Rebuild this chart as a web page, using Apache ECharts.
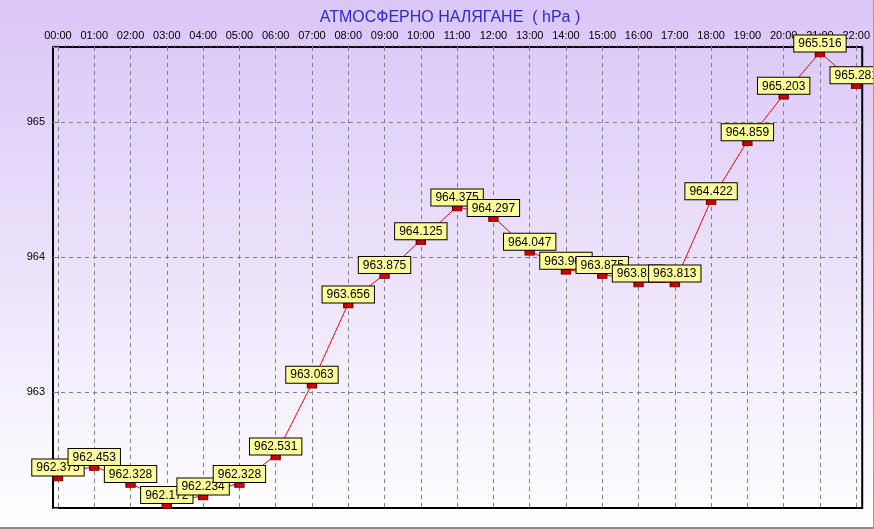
<!DOCTYPE html>
<html>
<head>
<meta charset="utf-8">
<script src="https://cdn.jsdelivr.net/npm/echarts@6/dist/echarts.min.js"></script>
<style>
  html, body { margin: 0; padding: 0; }
  #chart {
    width: 873px; height: 527px;
    border-right: 1px solid #a0a0a0;
    border-bottom: 2px solid #8c8c8c;
    background: linear-gradient(to bottom, #dac6f8 0%, #ece2fb 50%, #ffffff 100%);
  }
</style>
</head>
<body>
<div id="chart"></div>
<script>
// часове по горната ос
const hours = ['00:00', '01:00', '02:00', '03:00', '04:00', '05:00', '06:00', '07:00',
  '08:00', '09:00', '10:00', '11:00', '12:00', '13:00', '14:00', '15:00', '16:00',
  '17:00', '18:00', '19:00', '20:00', '21:00', '22:00'];

// атмосферно налягане, hPa
const pressure = [962.375, 962.453, 962.328, 962.172, 962.234, 962.328, 962.531, 963.063,
  963.656, 963.875, 964.125, 964.375, 964.297, 964.047, 963.906, 963.875, 963.813,
  963.813, 964.422, 964.859, 965.203, 965.516, 965.281];

const yLabels = [963, 964, 965];

const chart = echarts.init(document.getElementById('chart'), null, { renderer: 'canvas' });

const gridLine = {
  show: true, showMinLine: false, showMaxLine: false,
  lineStyle: { color: '#808080', type: [4, 4], width: 1 }
};

const option = {
  animation: false,
  textStyle: { fontFamily: 'Liberation Sans, Arial, sans-serif' },
  title: {
    text: 'АТМОСФЕРНО НАЛЯГАНЕ  ( hPa )',
    left: 445, top: 5,
    textAlign: 'center',
    textStyle: { color: '#2b2bd0', fontSize: 16, fontWeight: 'normal' }
  },
  grid: {
    left: 53, top: 47, right: 8, bottom: 19,
    show: true, borderColor: '#000', borderWidth: 2,
    backgroundColor: 'transparent'
  },
  xAxis: {
    type: 'value',
    position: 'top',
    min: -0.137, max: 22.165,
    splitNumber: 22,
    axisLine: { show: false },
    axisTick: { show: true, inside: false, length: 4, lineStyle: { color: '#808080', type: [2, 2] } },
    minorTick: { show: true, splitNumber: 5, length: 2, lineStyle: { color: '#808080' } },
    splitLine: gridLine,
    axisLabel: {
      color: '#000', fontSize: 11, margin: 6,
      formatter: v => (Number.isInteger(v) && hours[v]) ? hours[v] : ''
    }
  },
  yAxis: {
    type: 'value',
    min: 962.141, max: 965.556,
    splitNumber: 3,
    axisLine: { show: false },
    axisTick: { show: true, length: 5, lineStyle: { color: '#808080' } },
    splitLine: gridLine,
    axisLabel: {
      color: '#000', fontSize: 11, margin: 8,
      formatter: v => yLabels.includes(Math.round(v * 1000) / 1000) ? String(v) : ''
    }
  },
  series: [{
    type: 'line',
    data: pressure.map((p, i) => [i, p]),
    lineStyle: { color: '#ff0000', width: 1 },
    symbol: 'rect',
    symbolSize: [9, 5],
    symbolOffset: [0, 2],
    itemStyle: { color: '#cc0000', borderColor: '#7a0000', borderWidth: 1 },
    clip: false,
    label: {
      show: true,
      position: 'top',
      distance: 0,
      formatter: p => p.value[1].toFixed(3),
      color: '#000',
      fontSize: 12,
      lineHeight: 15,
      backgroundColor: '#ffff99',
      borderColor: '#000',
      borderWidth: 1,
      padding: [1, 4, 0, 4]
    },
    emphasis: { disabled: true }
  }]
};

chart.setOption(option);
</script>
</body>
</html>
